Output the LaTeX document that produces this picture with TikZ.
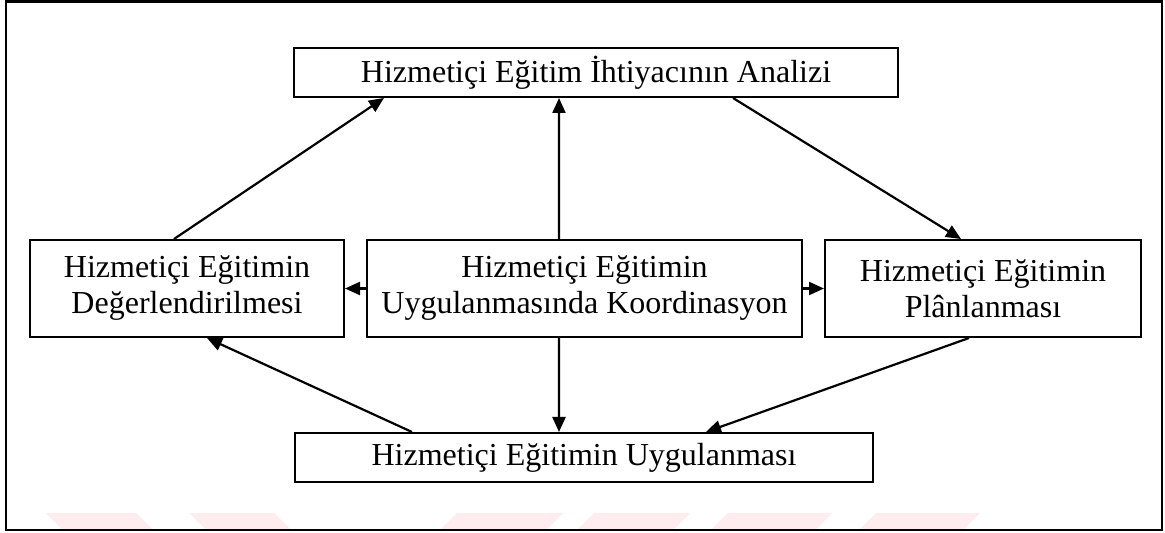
\documentclass[tikz,border=0pt]{standalone}
\usepackage{fontspec}
\setmainfont{Liberation Serif}
\usetikzlibrary{arrows.meta}
\definecolor{wmpink}{RGB}{254,236,239}
\tikzset{
  stagebox/.style={draw, line width=2bp, inner sep=0pt, align=center,
    font=\fontsize{32bp}{36bp}\selectfont},
  flow/.style={line width=2.2bp, -{Triangle[length=15bp,width=13bp]}},
}
\begin{document}
\begin{tikzpicture}[x=1bp, y=-1bp]
  \useasboundingbox (0,0) rectangle (1165,533);
  \fill[white] (0,0) rectangle (1165,533);

  % faint stamp bands along the lower edge
  \foreach \a/\b in {46/136, 189/274}
    \fill[wmpink] (\a,513) -- (\b,513) -- (\b+17,530) -- (\a+17,530) -- cycle;
  \foreach \a/\b in {457/563, 594/690, 728/832, 876/980}
    \fill[wmpink] (\a,513) -- (\b,513) -- (\b-17,530) -- (\a-17,530) -- cycle;

  % outer frame
  \draw[line width=2.6bp] (6,1.5) rectangle (1162,530);

  % stages
  \node[stagebox, minimum width=604bp, minimum height=49bp] (T) at (596,72.5)
    {Hizmetiçi Eğitim İhtiyacının Analizi};
  \node[stagebox, minimum width=314bp, minimum height=97bp] (L) at (187,288.5)
    {Hizmetiçi Eğitimin\\Değerlendirilmesi};
  \node[stagebox, minimum width=435bp, minimum height=97bp] (C) at (584.5,288.5)
    {Hizmetiçi Eğitimin\\Uygulanmasında Koordinasyon};
  \node[stagebox, minimum width=316bp, minimum height=97bp] (R) at (983,288.5)
    {Hizmetiçi Eğitimin\\Plânlanması};
  \node[stagebox, minimum width=578bp, minimum height=49bp] (B) at (584,457.5)
    {Hizmetiçi Eğitimin Uygulanması};

  % cycle
  \draw[flow] ([xshift=145bp]L.north west) -- ([xshift=91bp]T.south west);
  \draw[flow] ([xshift=440bp]T.south west) -- ([xshift=137bp]R.north west);
  \draw[flow] ([xshift=145bp]R.south west) -- ([xshift=412bp]B.north west);
  \draw[flow] ([xshift=118bp]B.north west) -- ([xshift=178bp]L.south west);

  % coordination links
  \draw[flow] ([xshift=193bp]C.north west) -- ([xshift=266bp]T.south west);
  \draw[flow] ([xshift=193bp]C.south west) -- ([xshift=265bp]B.north west);
  \draw[flow] (C.west) -- (L.east);
  \draw[flow] (C.east) -- (R.west);
\end{tikzpicture}
\end{document}
